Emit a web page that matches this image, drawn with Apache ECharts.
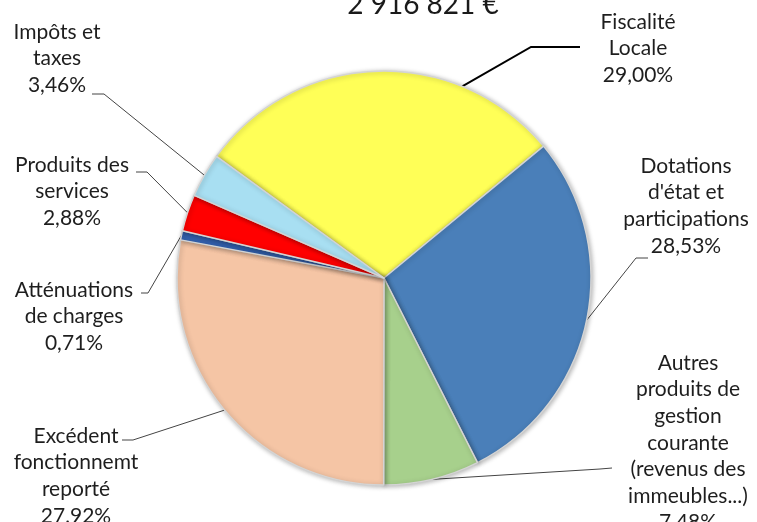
<!DOCTYPE html>
<html>
<head>
<meta charset="utf-8">
<script src="https://cdn.jsdelivr.net/npm/echarts@6/dist/echarts.min.js"></script>
<style>
  html, body { margin: 0; padding: 0; background: #fff; }
  #chart { width: 757px; height: 522px; }
</style>
</head>
<body>
<div id="chart"></div>
<script>
(function () {
  var totalLabel = '2 916 821 €';
  var categories = [
    'Fiscalité\nLocale',
    'Dotations\nd\'état et\nparticipations',
    'Autres\nproduits de\ngestion\ncourante\n(revenus des\nimmeubles...)',
    'Excédent\nfonctionnemt\nreporté',
    'Atténuations\nde charges',
    'Produits des\nservices',
    'Impôts et\ntaxes'
  ];
  var shares = [29.00, 28.53, 7.48, 27.92, 0.71, 2.88, 3.46];
  var shareLabels = ['29,00%', '28,53%', '7,48%', '27,92%', '0,71%', '2,88%', '3,46%'];
  var colors = ['#ffff57', '#4a7fb9', '#a7d08c', '#f5c5a5', '#3462b0', '#ff0000', '#a8dff2'];

  /* ---------- layout ---------- */
  var cx = 384, cy = 278, r = 207;
  var startAngle = 144;
  var lineH = 26.6;
  // label: centre x, centre y of first line; leader: bend and end points; shift of anchor (deg)
  var labelSpots = [
    { x: 638, y: 22,  bend: [531, 47],  end: [580, 47],  shift: -24 },
    { x: 686, y: 166, bend: [636, 258], end: [648, 258], shift: 0 },
    { x: 688, y: 363, bend: [600, 469], end: [612, 468], shift: 0 },
    { x: 76,  y: 436, bend: [133, 440], end: [122, 440], shift: 0 },
    { x: 74,  y: 290, bend: [148, 293], end: [141, 293], shift: 0 },
    { x: 72,  y: 165, bend: [147, 172], end: [136, 172], shift: 0 },
    { x: 57,  y: 32,  bend: [104, 94],  end: [92, 94],   shift: 0 }
  ];

  var total = shares.reduce(function (a, b) { return a + b; }, 0);
  var acc = 0;
  var midAngles = shares.map(function (v) {
    var a = startAngle - (acc + v / 2) / total * 360;
    acc += v;
    return a;
  });

  var data = shares.map(function (v, i) {
    return {
      name: categories[i],
      value: v,
      itemStyle: { color: colors[i] },
      labelLine: i === 0 ? { lineStyle: { color: '#000', width: 2 } } : undefined
    };
  });

  var chart = echarts.init(document.getElementById('chart'), null, { renderer: 'canvas' });
  chart.setOption({
    animation: false,
    graphic: [{
      type: 'text',
      x: 423, y: 19,
      style: {
        text: totalLabel,
        fill: '#1a1a1a',
        font: '28px Lato',
        textAlign: 'center',
        textVerticalAlign: 'bottom'
      }
    }],
    series: [{
      type: 'pie',
      center: [cx, cy],
      radius: r,
      startAngle: startAngle,
      clockwise: true,
      avoidLabelOverlap: false,
      data: data,
      itemStyle: {
        borderColor: '#d4d4d4',
        borderWidth: 1.5,
        shadowBlur: 5,
        shadowColor: 'rgba(0,0,0,0.3)',
        shadowOffsetX: 1,
        shadowOffsetY: 1
      },
      label: {
        show: true,
        position: 'outside',
        color: '#1e1e1e',
        fontFamily: 'Lato',
        fontSize: 21,
        lineHeight: lineH,
        align: 'center',
        formatter: function (p) {
          return p.name + '\n' + shareLabels[p.dataIndex];
        }
      },
      labelLine: {
        show: true,
        lineStyle: { color: '#444', width: 1 }
      },
      labelLayout: function (p) {
        var s = labelSpots[p.dataIndex];
        var a = (midAngles[p.dataIndex] + s.shift) * Math.PI / 180;
        var anchor = [cx + r * Math.cos(a), cy - r * Math.sin(a)];
        return {
          x: s.x,
          y: s.y - lineH / 2,
          align: 'center',
          verticalAlign: 'top',
          labelLinePoints: [anchor, s.bend, s.end]
        };
      }
    }]
  });

  window.addEventListener('resize', function () { chart.resize(); });
})();
</script>
</body>
</html>
